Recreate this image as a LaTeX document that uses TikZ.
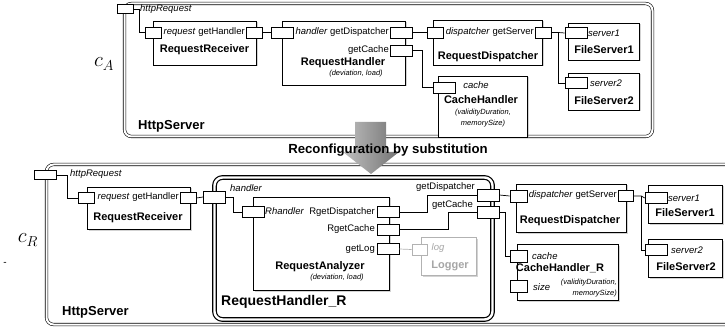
\documentclass[tikz,border=0pt]{standalone}
\usepackage{fontspec}
\setmainfont{Liberation Sans}
\usetikzlibrary{positioning,shadows}

\tikzset{
  comp/.style={draw, fill=white, line width=0.8pt, inner sep=0,
    drop shadow={shadow xshift=1.5pt, shadow yshift=-1.5pt, opacity=0.35}},
  port/.style={draw, fill=white, line width=0.7pt, inner sep=0,
    minimum width=16pt, minimum height=11pt},
  wport/.style={port, minimum width=22pt},
  srv/.style={draw, double, double distance=2pt, line width=0.6pt, rounded corners=7pt},
  lbl/.style={font=\fontsize{9.5}{11}\selectfont, inner sep=0},
  ttl/.style={font=\bfseries\fontsize{11}{13}\selectfont, inner sep=0},
  prm/.style={font=\itshape\fontsize{7.5}{9}\selectfont, inner sep=0},
  conn/.style={line width=0.7pt},
  off/.style={draw=black!30, text=black!35}
}

\begin{document}
\begin{tikzpicture}[x=1pt,y=-1pt]
\clip (0,0) rectangle (725,331);

% configuration c_A
\node[srv, minimum width=528pt, minimum height=133pt] (srvA) at (388.5,70) {};
\node[font=\fontsize{22}{24}\selectfont] (cA) at (104,64) {$c_A$};
\node[port, minimum height=9pt] (hrA) at (125.5,9) {};
\node[lbl, anchor=west] (hrAl) at (140,9) {\textit{httpRequest}};

\node[comp, minimum width=103pt, minimum height=44pt] (rrA) at (204.5,43) {};
\node[port] (rrA-rq) at (153,32.5) {};
\node[port] (rrA-gh) at (254,32.5) {};
\node[lbl, anchor=east] at (245,32.5) {\textit{request} getHandler};
\node[ttl] at (204.5,50) {RequestReceiver};

\node[comp, minimum width=123pt, minimum height=64pt] (rhA) at (343.5,53) {};
\node[wport] (rhA-h) at (282,32.5) {};
\node[wport] (rhA-gd) at (401.5,32.5) {};
\node[wport] (rhA-gc) at (401.5,50.5) {};
\node[lbl, anchor=east] at (389,32.5) {\textit{handler} getDispatcher};
\node[lbl, anchor=east] at (389,50.5) {getCache};
\node[ttl] at (343,63) {RequestHandler};
\node[prm] at (356,74) {(deviation, load)};

\node[comp, minimum width=109pt, minimum height=45pt] (rdA) at (487.5,42.5) {};
\node[port] (rdA-d) at (435,32.5) {};
\node[port] (rdA-gs) at (543,32.5) {};
\node[lbl, anchor=east] at (534,32.5) {\textit{dispatcher} getServer};
\node[ttl] at (488,57) {RequestDispatcher};

\node[comp, minimum width=71pt, minimum height=37pt] (fs1A) at (603.5,41.5) {};
\node[wport] (fs1A-s) at (576,33) {};
\node[lbl, anchor=west] at (588,33) {\textit{server1}};
\node[ttl] at (604,50) {FileServer1};

\node[comp, minimum width=71pt, minimum height=37pt] (fs2A) at (603.5,91.5) {};
\node[wport] (fs2A-s) at (576,83) {};
\node[lbl, anchor=west] at (590,83) {\textit{server2}};
\node[ttl] at (604,101) {FileServer2};

\node[comp, minimum width=89pt, minimum height=61pt] (chA) at (482.5,106.5) {};
\node[wport] (chA-c) at (444,87.5) {};
\node[lbl] at (476,85) {\textit{cache}};
\node[ttl] at (481,100) {CacheHandler};
\node[prm] at (483,113) {(validityDuration,};
\node[prm] at (483,124) {memorySize)};

\node[font=\bfseries\fontsize{13}{15}\selectfont, anchor=west, inner sep=0] at (138,126) {HttpServer};

\draw[conn] (hrA.east) -- ++(5,0) |- (rrA-rq.west);
\draw[conn] (rrA-gh.east) -- (rhA-h.west);
\draw[conn] (rhA-gd.east) -- (rdA-d.west);
\draw[conn] (rhA-gc.east) -- ++(9,0) |- (chA-c.west);
\draw[conn] (rdA-gs.east) -- ++(7,0) coordinate (jA) -- (fs1A-s.west);
\draw[conn] (jA) |- (fs2A-s.west);

% configuration c_R
\node[srv, minimum width=699pt, minimum height=160pt] (srvR) at (396,244.5) {};
\node[font=\fontsize{22}{24}\selectfont] (cR) at (28,240) {$c_R$};
\node[inner sep=0] (dash) at (5,264) {-};
\node[port, minimum width=22pt, minimum height=9pt] (hrR) at (45,175) {};
\node[lbl, anchor=west] (hrRl) at (70,174) {\textit{httpRequest}};

\node[comp, minimum width=103pt, minimum height=42pt] (rrR) at (138.5,208) {};
\node[port] (rrR-rq) at (86,198) {};
\node[port] (rrR-gh) at (188,198) {};
\node[lbl, anchor=east] at (179,197) {\textit{request} getHandler};
\node[ttl] at (138,218) {RequestReceiver};

\draw[double, double distance=2.4pt, line width=1.2pt, rounded corners=8pt]
  (214.5,177.5) rectangle (492.5,319.5);
\node[wport, minimum height=12pt] (rhR-h) at (214.5,197) {};
\node[wport, minimum height=12pt] (rhR-gd) at (488,195) {};
\node[wport, minimum height=12pt] (rhR-gc) at (488,212.5) {};
\node[lbl, anchor=west] at (230,188) {\textit{handler}};
\node[lbl, anchor=east] at (475,187) {getDispatcher};
\node[lbl, anchor=east] at (473,205) {getCache};
\node[font=\bfseries\fontsize{14}{16}\selectfont, anchor=west, inner sep=0] at (221,302) {RequestHandler\_R};

\node[comp, minimum width=136pt, minimum height=93pt] (ra) at (321,243.5) {};
\node[wport] (ra-rh) at (253,212) {};
\node[wport] (ra-rgd) at (388,212) {};
\node[wport] (ra-rgc) at (388,229.5) {};
\node[wport] (ra-gl) at (388,249) {};
\node[lbl, anchor=east] at (375,212) {\textit{Rhandler}\; RgetDispatcher};
\node[lbl, anchor=east] at (375,229) {RgetCache};
\node[lbl, anchor=east] at (375,249) {getLog};
\node[ttl] at (320,267) {RequestAnalyzer};
\node[prm] at (337,278) {(deviation, load)};

\node[comp, off, minimum width=55pt, minimum height=38pt] (lg) at (448.5,256) {};
\node[port, off, minimum width=15pt] (lg-l) at (419.5,249.5) {};
\node[lbl, text=black!35] at (438,248) {\textit{log}};
\node[ttl, text=black!35] at (450,266) {Logger};

\node[comp, minimum width=110pt, minimum height=48pt] (rdR) at (571,208) {};
\node[port, minimum width=17pt, minimum height=12pt] (rdR-d) at (518.5,196) {};
\node[port, minimum width=15pt] (rdR-gs) at (625.5,196) {};
\node[lbl, anchor=east] at (617,195) {\textit{dispatcher} getServer};
\node[ttl] at (570,221) {RequestDispatcher};

\node[comp, minimum width=74pt, minimum height=38pt] (fs1R) at (685,204) {};
\node[wport] (fs1R-s) at (656,198) {};
\node[lbl, anchor=west] at (668,198) {\textit{server1}};
\node[ttl] at (685,213) {FileServer1};

\node[comp, minimum width=74pt, minimum height=38pt] (fs2R) at (685,258) {};
\node[wport] (fs2R-s) at (656,250) {};
\node[lbl, anchor=west] at (671,250) {\textit{server2}};
\node[ttl] at (686,267) {FileServer2};

\node[comp, minimum width=101pt, minimum height=56pt] (chR) at (567.5,272) {};
\node[port, minimum width=17pt, minimum height=12pt] (chR-c) at (518.5,256) {};
\node[port, minimum width=17pt, minimum height=12pt] (chR-s) at (519,286) {};
\node[lbl, anchor=west] at (532,256) {\textit{cache}};
\node[lbl, anchor=west] at (533,287) {\textit{size}};
\node[ttl] at (560,268) {CacheHandler\_R};
\node[prm, anchor=east] at (617,283) {(validityDuration,};
\node[prm, anchor=east] at (617,294) {memorySize)};

\node[font=\bfseries\fontsize{13}{15}\selectfont, anchor=west, inner sep=0] at (62,312) {HttpServer};

\draw[conn] (hrR.east) -- ++(11,0) |- (rrR-rq.west);
\draw[conn] (rrR-gh.east) -- (rhR-h.west);
\draw[conn] (rhR-h.east) -- ++(7,0) |- (ra-rh.west);
\draw[conn] (ra-rgd.east) -- ++(28,0) |- (rhR-gd.west);
\draw[conn] (ra-rgc.east) -- ++(49,0) |- (rhR-gc.west);
\draw[conn, black!30] (ra-gl.east) -- (lg-l.west);
\draw[conn] (rhR-gd.east) -- (rdR-d.west);
\draw[conn] (rhR-gc.east) -- ++(6,0) |- (chR-c.west);
\draw[conn] (rdR-gs.east) -- ++(8,0) coordinate (jR) -- (fs1R-s.west);
\draw[conn] (jR) |- (fs2R-s.west);

% substitution arrow
\shade[left color=black!25, right color=black!55]
  (355,122) -- (386,122) -- (386,152) -- (399,152) -- (371,174)
  -- (343,152) -- (355,152) -- cycle;
\node[font=\bfseries\fontsize{13.2}{15}\selectfont, inner sep=0] (rcf) at (388,150) {Reconfiguration by substitution};
\end{tikzpicture}
\end{document}
